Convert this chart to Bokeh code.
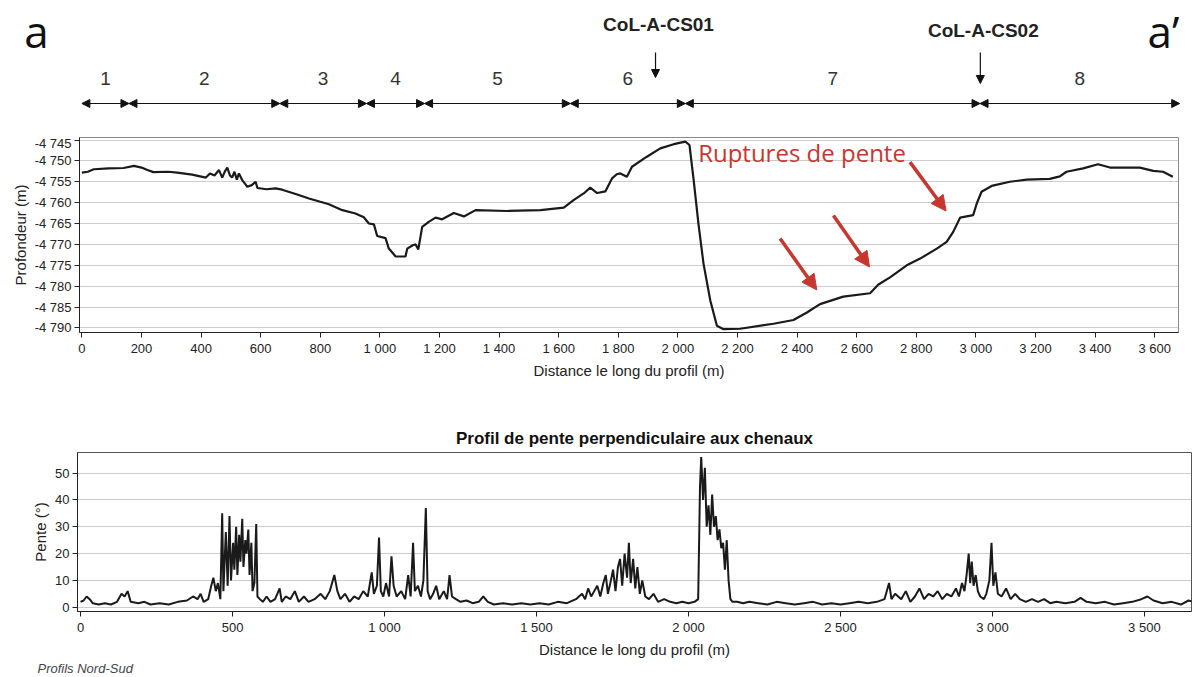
from bokeh.plotting import figure
from bokeh.models import (Range1d, FixedTicker, CustomJSTickFormatter, Arrow,
                          NormalHead, ColumnDataSource)
from bokeh.layouts import column
from bokeh.embed import file_html
from bokeh.resources import INLINE
from bokeh.core.properties import value

# ---------------- data ----------------
depth_x = [0, 20, 40, 90, 140, 175, 200, 220, 240, 290, 320, 370, 416, 430, 445, 460,
           471, 480, 488, 497, 504, 512, 520, 527, 538, 548, 555, 570, 583, 589, 620,
           650, 672, 720, 762, 800, 829, 874, 918, 946, 963, 980, 991, 1019, 1030,
           1053, 1086, 1092, 1110, 1120, 1129, 1142, 1164, 1187, 1209, 1248, 1282,
           1321, 1427, 1539, 1617, 1650, 1684, 1706, 1729, 1757, 1779, 1795, 1807,
           1829, 1846, 1896, 1941, 1986, 2025, 2039, 2053, 2069, 2086, 2109, 2131,
           2153, 2209, 2321, 2388, 2433, 2477, 2555, 2645, 2673, 2712, 2768, 2813,
           2869, 2902, 2924, 2947, 2991, 3003, 3019, 3053, 3114, 3170, 3248, 3282,
           3304, 3360, 3410, 3450, 3550, 3595, 3628, 3661]
depth_y = [-4752.8, -4752.6, -4752.0, -4751.8, -4751.7, -4751.2, -4751.6, -4752.2,
           -4752.7, -4752.6, -4752.8, -4753.3, -4754.0, -4753.0, -4753.5, -4752.2,
           -4754.0, -4752.5, -4751.6, -4753.5, -4754.0, -4752.6, -4754.5, -4753.0,
           -4754.6, -4755.5, -4756.2, -4755.8, -4755.0, -4756.5, -4756.8, -4756.6,
           -4756.9, -4758.0, -4759.0, -4759.8, -4760.4, -4761.8, -4762.6, -4763.5,
           -4765.0, -4765.2, -4768.0, -4768.5, -4771.0, -4772.9, -4772.9, -4771.0,
           -4770.2, -4770.0, -4771.2, -4765.8, -4764.6, -4763.6, -4764.0, -4762.5,
           -4763.3, -4761.8, -4762.0, -4761.8, -4761.2, -4759.4, -4757.8, -4756.4,
           -4757.7, -4757.3, -4754.2, -4753.2, -4753.0, -4753.8, -4751.4, -4749.0,
           -4747.0, -4746.0, -4745.4, -4746.2, -4754.6, -4765.0, -4774.6, -4783.5,
           -4789.5, -4790.3, -4790.2, -4789.0, -4788.1, -4786.3, -4784.3, -4782.5,
           -4781.7, -4779.6, -4777.9, -4775.0, -4773.4, -4771.0, -4769.4, -4767.0,
           -4763.6, -4763.0, -4760.2, -4757.4, -4756.0, -4755.0, -4754.5, -4754.3,
           -4753.7, -4752.6, -4751.8, -4750.8, -4751.6, -4751.6, -4752.4, -4752.6,
           -4753.8]

slope_x = [0, 10, 20, 30, 40, 60, 80, 100, 120, 135, 145, 155, 165, 190, 210, 230,
           260, 290, 320, 350, 370, 385, 395, 405, 420, 430, 437, 445, 452, 460, 466,
           470, 478, 484, 490, 495, 502, 506, 512, 516, 522, 526, 532, 536, 542, 546,
           552, 556, 562, 566, 572, 578, 582, 590, 600, 612, 625, 640, 655, 662, 675,
           690, 705, 718, 735, 750, 770, 790, 805, 820, 835, 845, 855, 870, 885, 900,
           915, 930, 945, 958, 965, 975, 982, 988, 996, 1005, 1015, 1023, 1030, 1040,
           1055, 1068, 1078, 1086, 1094, 1100, 1110, 1120, 1128, 1136, 1142, 1150,
           1160, 1170, 1180, 1195, 1206, 1214, 1222, 1235, 1250, 1270, 1290, 1310,
           1325, 1340, 1360, 1390, 1420, 1450, 1480, 1510, 1540, 1570, 1600, 1630,
           1650, 1660, 1670, 1680, 1690, 1700, 1710, 1720, 1728, 1735, 1745, 1752,
           1760, 1768, 1775, 1782, 1790, 1798, 1804, 1810, 1818, 1825, 1832, 1840,
           1848, 1858, 1870, 1885, 1900, 1920, 1940, 1960, 1980, 2000, 2020, 2032,
           2038, 2042, 2048, 2054, 2060, 2066, 2072, 2078, 2084, 2090, 2096, 2102,
           2108, 2114, 2120, 2126, 2132, 2138, 2145, 2160, 2180, 2200, 2230, 2260,
           2290, 2320, 2350, 2380, 2410, 2440, 2470, 2500, 2530, 2560, 2590, 2620,
           2645, 2660, 2668, 2680, 2700, 2715, 2730, 2745, 2760, 2775, 2790, 2805,
           2820, 2835, 2850, 2865, 2880, 2890, 2900, 2908, 2915, 2922, 2927, 2932,
           2938, 2945, 2952, 2960, 2972, 2980, 2990, 2997, 3003, 3010, 3018, 3030,
           3045, 3060, 3075, 3090, 3110, 3130, 3150, 3170, 3190, 3210, 3240, 3270,
           3290, 3310, 3340, 3370, 3400, 3430, 3460, 3490, 3510, 3530, 3560, 3590,
           3620, 3645, 3660]
slope_y = [2, 2.5, 4, 3, 1.5, 1, 1.5, 1, 2, 5, 4, 6, 2, 1.5, 2, 1,
           1.5, 1, 2, 2.5, 4, 3, 5, 2, 3, 8, 11, 6, 9, 3, 35,
           6, 28, 8, 34, 10, 24, 14, 30, 12, 27, 17, 33, 15, 25, 20,
           29, 12, 24, 6, 9, 31, 4, 3, 2, 4, 2, 3, 7, 2, 4,
           3, 6, 2, 4, 2, 3, 5, 3, 6, 12, 6, 3, 5, 2, 4,
           3, 6, 4, 13, 5, 8, 26, 6, 4, 9, 4, 19, 8, 4,
           6, 3, 12, 4, 24, 6, 8, 4, 10, 37, 6, 3,
           5, 8, 3, 6, 3, 12, 4, 3, 2, 2.5, 1.5, 2,
           4, 2, 1, 1.5, 1, 1.5, 1, 1.5, 1, 2, 1.5, 3,
           5, 3, 7, 4, 6, 8, 4, 9, 12, 5, 10, 14,
           6, 15, 18, 8, 20, 11, 24, 9, 18, 7, 15, 5,
           10, 4, 3, 5, 2, 3, 2, 1.5, 2, 1.5, 2, 3,
           45, 56, 40, 52, 30, 38, 27, 42, 30, 34, 25, 29,
           22, 24, 14, 25, 10, 3, 2, 2, 1.5, 2, 1.5, 1,
           2, 1.5, 1, 1.5, 2, 1, 1.5, 1, 1.5, 2, 1.5, 2,
           3, 9, 3, 5, 3, 6, 2, 4, 7, 3, 5, 4,
           6, 3, 5, 4, 7, 4, 9, 6, 12, 20, 9, 17,
           8, 12, 6, 4, 3, 5, 10, 24, 8, 13, 5, 4,
           7, 3, 5, 3, 2, 3, 2, 3, 1.5, 2, 1.5, 2,
           3.5, 2, 1.5, 2, 1, 1.5, 2, 3, 4, 2.5, 1.5, 2,
           1, 2.5, 2]

seg_bounds = [0, 158, 664, 955, 1150, 1639, 2025, 3014, 3684]
seg_labels = ["1", "2", "3", "4", "5", "6", "7", "8"]
stations = ["CoL-A-CS01", "CoL-A-CS02"]
station_x = [1925, 3015]

top_xticks = list(range(0, 3601, 200))
top_yticks = [-4745, -4750, -4755, -4760, -4765, -4770, -4775, -4780, -4785, -4790]
bot_xticks = [0, 500, 1000, 1500, 2000, 2500, 3000, 3500]
bot_yticks = [0, 10, 20, 30, 40, 50]

# ---------------- style ----------------
FONT = "Liberation Sans"
RED = "#C8372F"
W = 1196

fmt = CustomJSTickFormatter(code="""
const s = Math.abs(tick).toFixed(0).replace(/\\B(?=(\\d{3})+(?!\\d))/g, ' ');
return (tick < 0 ? '-' : '') + s;
""")


def style_axes(p):
    for ax in (p.xaxis[0], p.yaxis[0]):
        ax.axis_line_color = "#222222"
        ax.major_tick_line_color = "#222222"
        ax.major_tick_out = 5
        ax.major_tick_in = 0
        ax.minor_tick_line_color = None
        ax.major_label_text_font = FONT
        ax.major_label_text_font_size = "13px"
        ax.major_label_text_color = "#222222"
        ax.major_label_standoff = 3
        ax.axis_label_text_font = FONT
        ax.axis_label_text_font_size = "15px"
        ax.axis_label_text_font_style = "normal"
        ax.axis_label_text_color = "#222222"
        ax.axis_label_standoff = 3
        ax.formatter = fmt
    p.xgrid.visible = False
    p.ygrid.grid_line_color = "#9a9a9a"
    p.ygrid.grid_line_dash = "1 1"
    p.ygrid.grid_line_width = 1
    p.outline_line_color = "#888888"
    p.background_fill_color = "white"
    p.border_fill_color = "white"


# ---------------- top profile ----------------
TOP_L, TOP_R, TOP_FW = 79, 18, 1099
top_x0, top_x1 = -8, 3680
p1 = figure(frame_width=TOP_FW, frame_height=195, min_border_left=TOP_L,
            min_border_right=TOP_R, min_border_top=2, min_border_bottom=60,
            x_range=Range1d(top_x0, top_x1), y_range=Range1d(-4791.1, -4744.4),
            output_backend="svg", toolbar_location=None)
p1.line(depth_x, depth_y, line_color="#1a1a1a", line_width=2.2)
p1.xaxis.ticker = FixedTicker(ticks=top_xticks)
p1.yaxis.ticker = FixedTicker(ticks=top_yticks)
p1.xaxis.axis_label = "Distance le long du profil (m)"
p1.yaxis.axis_label = "Profondeur (m)"
style_axes(p1)

p1.text(x=[2068], y=[-4748.0], text=["Ruptures de pente"], text_color=RED,
        text_font=value("Open Sans"), text_font_size="24px",
        text_baseline="middle", text_align="left")
red_src = ColumnDataSource(dict(x0=[2343, 2522, 2779], y0=[-4768.6, -4763.1, -4750.3],
                                x1=[2466, 2643, 2900], y1=[-4780.9, -4775.4, -4762.0]))
p1.add_layout(Arrow(x_start="x0", y_start="y0", x_end="x1", y_end="y1", source=red_src,
                    line_color=RED, line_width=3.5,
                    end=NormalHead(size=15, fill_color=RED, line_color=RED)))

# ---------------- header (segments & stations) ----------------
scale = TOP_FW / (top_x1 - top_x0)
hx0 = top_x0 - TOP_L / scale
hx1 = hx0 + W / scale
H_HEAD = 135
ph = figure(width=W, height=H_HEAD, x_range=Range1d(hx0, hx1), y_range=Range1d(H_HEAD, 0),
            min_border=0, output_backend="svg", toolbar_location=None)
ph.axis.visible = False
ph.grid.visible = False
ph.outline_line_color = None
ph.background_fill_color = "white"
ph.border_fill_color = "white"

ph.text(x=[hx0 + 36 / scale], y=[30], text=["a"], text_font=value("Open Sans"),
        text_font_size="44px", text_baseline="middle", text_align="center", text_color="#111111")
ph.text(x=[hx0 + 1163 / scale], y=[30], text=["a’"], text_font=value("Open Sans"),
        text_font_size="44px", text_baseline="middle", text_align="center", text_color="#111111")

ph.text(x=[s + 3 / scale for s in station_x], y=[24, 30], text=stations,
        text_font=value(FONT), text_font_size="19px", text_font_style="bold",
        text_baseline="middle", text_align="center", text_color="#222222")
st_src = ColumnDataSource(dict(x0=station_x, y0=[52, 52], x1=station_x, y1=[77, 83]))
ph.add_layout(Arrow(x_start="x0", y_start="y0", x_end="x1", y_end="y1", source=st_src,
                    line_color="#111111", line_width=1.2,
                    end=NormalHead(size=8, fill_color="#111111", line_color="#111111")))

mids = [(a + b) / 2 for a, b in zip(seg_bounds[:-1], seg_bounds[1:])]
ph.text(x=mids, y=[78] * len(mids), text=seg_labels, text_font=value(FONT),
        text_font_size="19px", text_baseline="middle", text_align="center",
        text_color="#333333")
seg_src = ColumnDataSource(dict(x0=seg_bounds[:-1], x1=seg_bounds[1:],
                                y0=[103] * len(mids), y1=[103] * len(mids)))
ph.add_layout(Arrow(x_start="x0", y_start="y0", x_end="x1", y_end="y1", source=seg_src,
                    line_color="#111111", line_width=1.2,
                    start=NormalHead(size=8, fill_color="#111111", line_color="#111111"),
                    end=NormalHead(size=8, fill_color="#111111", line_color="#111111")))

# ---------------- bottom slope ----------------
p2 = figure(frame_width=1114, frame_height=159, min_border_left=77, min_border_right=3,
            min_border_top=60, min_border_bottom=50,
            x_range=Range1d(-10, 3655), y_range=Range1d(-1.6, 57.7),
            output_backend="svg", toolbar_location=None)
p2.line(slope_x, slope_y, line_color="#1a1a1a", line_width=2)
p2.xaxis.ticker = FixedTicker(ticks=bot_xticks)
p2.yaxis.ticker = FixedTicker(ticks=bot_yticks)
p2.xaxis.axis_label = "Distance le long du profil (m)"
p2.yaxis.axis_label = "Pente (°)"
style_axes(p2)
p2.outline_line_color = "#555555"
p2.title.text = "Profil de pente perpendiculaire aux chenaux"
p2.title.align = "center"
p2.title.text_font = FONT
p2.title.text_font_size = "17px"
p2.title.text_font_style = "bold"
p2.title.text_color = "#111111"

# ---------------- footer ----------------
pf = figure(width=W, height=16, x_range=Range1d(0, W), y_range=Range1d(16, 0),
            min_border=0, output_backend="svg", toolbar_location=None)
pf.axis.visible = False
pf.grid.visible = False
pf.outline_line_color = None
pf.text(x=[37], y=[7], text=["Profils Nord-Sud"], text_font=value(FONT),
        text_font_size="13px", text_font_style="italic", text_color="#444444",
        text_baseline="middle", text_align="left")

layout = column(column(ph), column(p1), column(p2), column(pf), spacing=0)
open("out.html", "w").write(file_html(layout, INLINE))
